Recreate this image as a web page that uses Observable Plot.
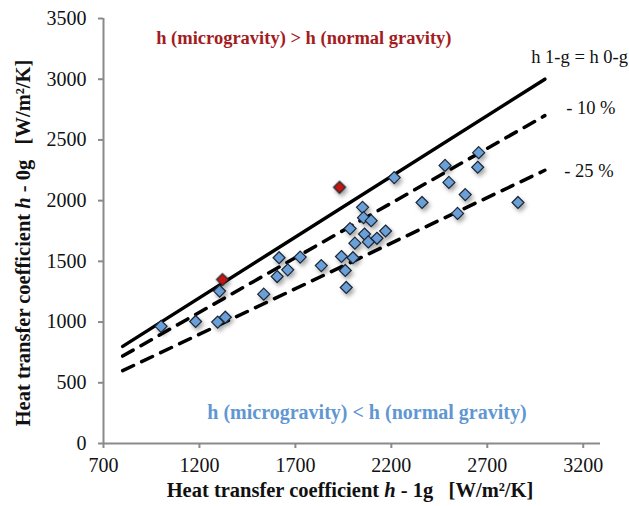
<!DOCTYPE html>
<html><head><meta charset="utf-8">
<script src="https://cdn.jsdelivr.net/npm/d3@7"></script>
<script src="https://cdn.jsdelivr.net/npm/@observablehq/plot@0.6"></script>
<style>
body{margin:0;background:#fff}
#chart{width:629px;height:506px}
svg{font-family:"Liberation Serif","Times New Roman",serif}
</style>
</head><body><div id="chart"></div>
<script>
// Heat transfer coefficient at 1 g (x) and 0 g (y), W/m²/K
const blueH1g = [1000,1180,1295,1335,1305,1535,1615,1725,1660,1605,1835,1940,2000,1960,1965,1985,2010,2050,2055,2095,2060,2080,2125,2170,2215,2360,2480,2500,2545,2585,2655,2650,2860];
const blueH0g = [965,1005,1000,1040,1255,1230,1530,1535,1430,1375,1465,1540,1530,1425,1285,1770,1650,1945,1860,1835,1725,1660,1690,1750,2190,1985,2290,2150,1895,2050,2395,2275,1985];
const redH1g = [1320,1930];
const redH0g = [1350,2110];

// reference lines: h0g = h1g, -10 %, -25 %
const refX = [800, 3000];
const refSolid = [800, 3000];
const ref10 = [720, 2700];
const ref25 = [600, 2250];

const xTicks = [700,1200,1700,2200,2700,3200];
const yTicks = [0,500,1000,1500,2000,2500,3000,3500];

const notes = [
  {text:"h (microgravity) > h (normal gravity)", x:1744, y:3336, fill:"#a31c1f", size:18.5, weight:"bold", anchor:"middle"},
  {text:"h (microgravity) < h (normal gravity)", x:2073, y:255, fill:"#5f97d3", size:20, weight:"bold", anchor:"middle"},
  {text:"h 1-g = h 0-g", x:2929, y:3180, fill:"#111", size:18.5, weight:"normal", anchor:"start"},
  {text:"- 10 %", x:3111, y:2759, fill:"#111", size:18.5, weight:"normal", anchor:"start"},
  {text:"- 25 %", x:3101, y:2240, fill:"#111", size:18.5, weight:"normal", anchor:"start"}
];

const blue = blueH1g.map((v,i)=>({x:v, y:blueH0g[i]}));
const red = redH1g.map((v,i)=>({x:v, y:redH0g[i]}));
const mk = ys => refX.map((v,i)=>({x:v, y:ys[i]}));

const plot = Plot.plot({
  width:629, height:506,
  marginLeft:103, marginRight:29, marginTop:18, marginBottom:63,
  style:{fontFamily:'"Liberation Serif","Times New Roman",serif', background:"#fff"},
  x:{domain:[700,3290]},
  y:{domain:[0,3500]},
  marks:[
    Plot.ruleX([700], {stroke:"#8a8a8a", strokeWidth:2}),
    Plot.ruleY([0], {stroke:"#8a8a8a", strokeWidth:2}),
    Plot.axisX(xTicks, {tickSize:5, tickPadding:9, fontSize:20, stroke:"#8a8a8a", strokeWidth:2, fill:"#111", label:null, tickFormat:d=>String(d)}),
    Plot.axisY(yTicks, {tickSize:5, tickPadding:12, fontSize:20, stroke:"#8a8a8a", strokeWidth:2, fill:"#111", label:null, tickFormat:d=>String(d)}),
    Plot.line(mk(refSolid), {x:"x", y:"y", stroke:"#000", strokeWidth:3.5}),
    Plot.line(mk(ref10), {x:"x", y:"y", stroke:"#000", strokeWidth:3.5, strokeDasharray:"12,9"}),
    Plot.line(mk(ref25), {x:"x", y:"y", stroke:"#000", strokeWidth:3.5, strokeDasharray:"12,9"}),
    Plot.dot(blue, {x:"x", y:"y", symbol:"diamond2", r:5.4, fill:"#6a9fd8", stroke:"#1b2735", strokeWidth:1.2}),
    Plot.dot(red, {x:"x", y:"y", symbol:"diamond2", r:5.4, fill:"#c4160e", stroke:"#1b2735", strokeWidth:1.2}),
    ...notes.map(n => Plot.text([n], {x:"x", y:"y", text:"text", fill:n.fill, fontSize:n.size, fontWeight:n.weight, textAnchor:n.anchor}))
  ]
});

const svg = d3.select(plot);
svg.selectAll('g[aria-label="dot"]').style("filter","drop-shadow(2px 3px 2px rgba(0,0,0,0.35))");

function title(sel, pre, post){
  sel.append("tspan").text(pre);
  sel.append("tspan").attr("font-style","italic").text("h");
  sel.append("tspan").text(post);
}
const xt = svg.append("text").attr("x",350).attr("y",497).attr("text-anchor","middle")
  .attr("font-size",20.5).attr("font-weight","bold").attr("fill","#111").attr("xml:space","preserve");
title(xt, "Heat transfer coefficient ", " - 1g   [W/m²/K]");
const yt = svg.append("text").attr("transform","translate(30,243) rotate(-90)").attr("text-anchor","middle")
  .attr("font-size",20.5).attr("font-weight","bold").attr("fill","#111").attr("xml:space","preserve");
title(yt, "Heat transfer coefficient ", " - 0g   [W/m²/K]");

document.getElementById("chart").append(plot);
</script>
</body></html>
